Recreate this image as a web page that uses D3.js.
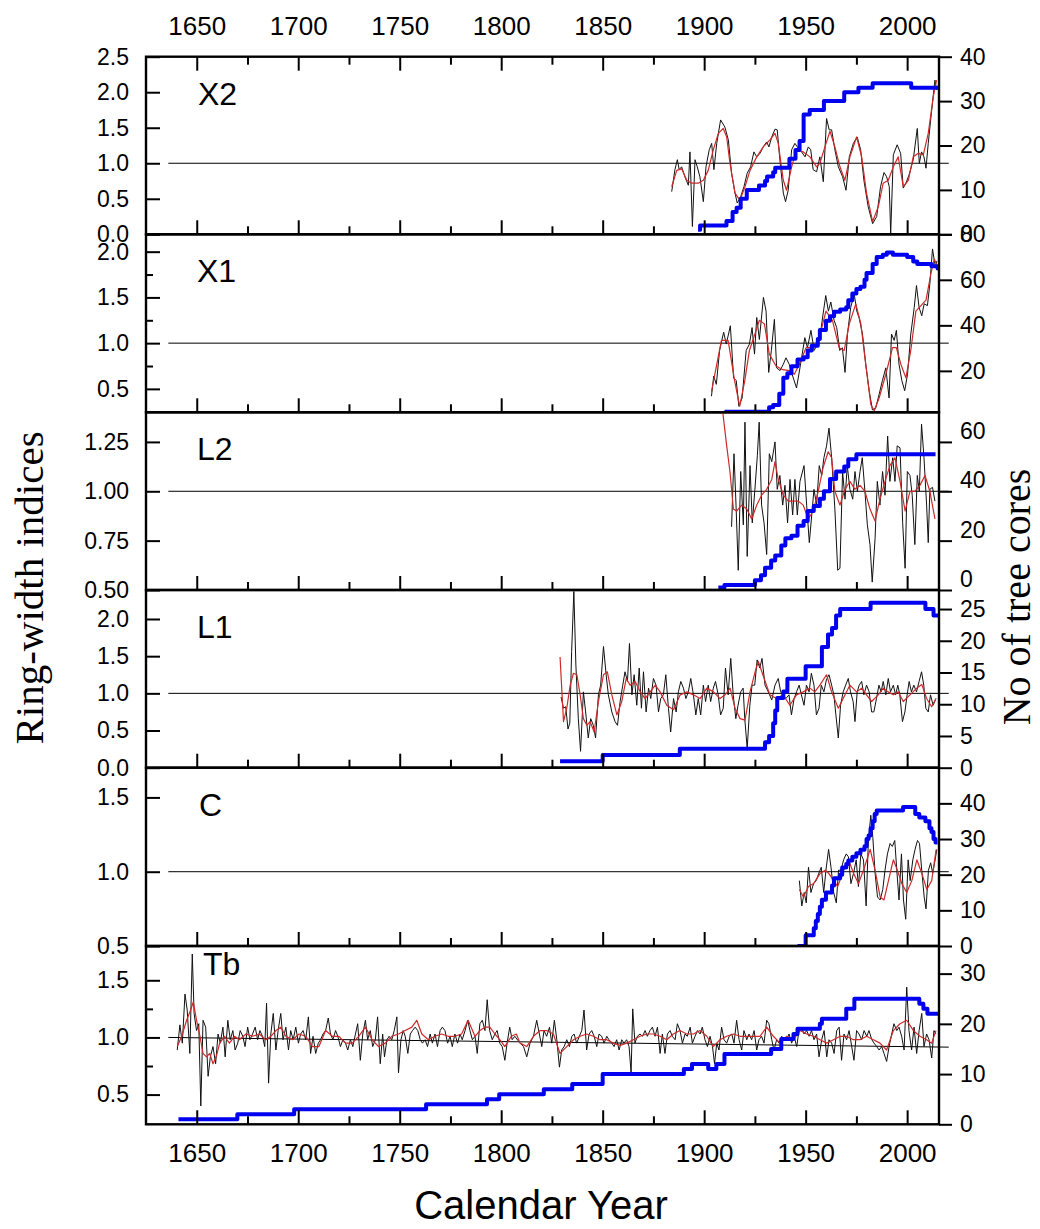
<!DOCTYPE html>
<html><head><meta charset="utf-8">
<script src="https://cdn.jsdelivr.net/npm/d3@7"></script>
<style>body{margin:0;background:#fff}svg{display:block}</style>
</head><body>
<svg id="chart" width="1040" height="1229"></svg>
<script>
// ---------------- DATA ----------------
const panelNames = ["X2", "X1", "L2", "L1", "C", "Tb"];
const xMajorTicks = [1650, 1700, 1750, 1800, 1850, 1900, 1950, 2000];
const xMinorTicks = [1675, 1725, 1775, 1825, 1875, 1925, 1975];
const xTitle = "Calendar Year";
const yLeftTitle = "Ring-width indices";
const yRightTitle = "No of tree cores";

// [year, ring-width index] (raw), [year, smoothed], [year, number of cores]
const X2_raw = [[1884,0.60],[1885.6,0.91],[1886.8,1.05],[1887.7,0.91],[1888.9,0.95],[1890.5,0.81],[1892.2,0.69],[1893,1.16],[1894.2,0.11],[1895.5,1.05],[1896.6,0.95],[1897.9,0.81],[1899.6,0.46],[1900.9,0.95],[1902.5,1.19],[1903.7,1.28],[1904.8,0.91],[1906.2,1.28],[1908.1,1.61],[1910.2,1.51],[1911.9,1.33],[1913.5,0.86],[1915.2,0.58],[1916.3,0.44],[1918,0.53],[1919.6,0.67],[1921.2,0.86],[1922.9,0.95],[1924.5,1.16],[1925.9,1.09],[1927.5,1.14],[1929.1,1.23],[1930.8,1.30],[1931.9,1.23],[1933.3,1.37],[1934.9,1.48],[1936,1.47],[1937.3,1.05],[1939,0.58],[1940.1,0.46],[1941.4,0.62],[1943.1,1.19],[1944.7,1.28],[1946.4,1.21],[1948,1.16],[1949.7,1.09],[1951.3,1.23],[1952.5,1.19],[1953.7,0.91],[1955.4,0.88],[1957,1.09],[1958.7,0.74],[1960.3,1.63],[1961.6,1.47],[1962.8,1.47],[1964.4,1.19],[1966.1,0.95],[1968.2,0.81],[1969.9,0.62],[1971.5,1.09],[1973.5,1.28],[1975.4,1.37],[1977.1,1.19],[1978.7,0.76],[1980.8,0.39],[1983,0.15],[1985,0.25],[1986.9,0.67],[1988.6,0.87],[1989.9,0.81],[1991.2,0.67],[1991.9,0.01],[1993.2,1.12],[1995.1,1.26],[1996.8,1.14],[1998.1,0.65],[1999.4,0.72],[2001,0.84],[2003,1.05],[2005,1.49],[2006,1.0],[2007.1,1.16],[2008.3,1.09],[2009.3,0.93],[2010.4,1.28],[2012.1,1.75],[2013.7,2.17],[2014.5,2.03]];
const X2_smooth = [[1884,0.67],[1886.5,0.90],[1889,0.92],[1891.4,0.76],[1893.8,0.72],[1897.1,0.72],[1899.6,0.76],[1902,0.90],[1904.5,1.19],[1907,1.42],[1909.4,1.49],[1911.1,1.37],[1912.7,1.0],[1915.2,0.58],[1917.6,0.48],[1920.1,0.67],[1922.6,0.90],[1925.9,1.09],[1929.1,1.23],[1932.4,1.33],[1934.9,1.42],[1936.5,1.28],[1939,0.76],[1940.6,0.62],[1943.1,0.95],[1945.5,1.19],[1948.8,1.16],[1952.1,1.09],[1955.4,0.95],[1957,1.0],[1959.5,1.23],[1962,1.45],[1964.4,1.23],[1966.9,0.95],[1969.3,0.76],[1971.8,1.09],[1975.1,1.37],[1977.6,1.09],[1980,0.58],[1983,0.18],[1985.8,0.39],[1988.2,0.72],[1990.7,0.76],[1993.2,0.95],[1995.6,1.09],[1998.1,0.67],[2000.6,0.76],[2003,1.09],[2005.5,1.14],[2008,1.12],[2010.4,1.42],[2012.9,1.94],[2014.5,2.17]];
const X2_depth = [[1897,1],[1898,2],[1911,3],[1914,5],[1916,6],[1918,8],[1921,10],[1927,11],[1930,12],[1931,13],[1934,14],[1935,15],[1942,17],[1945,19],[1947,21],[1949,27],[1952,28],[1959,30],[1969,32],[1976,33],[1983,34],[2002,33],[2016,33]];

const X1_raw = [[1903.6,0.42],[1904.7,0.64],[1906,0.55],[1907.6,0.92],[1909.6,1.12],[1910.9,0.99],[1912.9,1.19],[1914.5,0.62],[1915.8,0.59],[1917.1,0.31],[1918.7,0.40],[1920.7,0.92],[1922.3,0.99],[1923.6,1.17],[1924.8,0.88],[1925.9,1.28],[1927.2,1.04],[1929.2,1.50],[1930.5,1.35],[1931.8,0.68],[1933.1,0.92],[1934.6,1.26],[1935.7,0.73],[1937.4,0.70],[1939,0.77],[1940.3,0.84],[1941.9,0.77],[1943.6,0.64],[1945.5,0.51],[1947.2,0.73],[1949.6,1.06],[1950.9,0.95],[1952.6,1.14],[1954.2,0.92],[1955.8,0.99],[1957.5,1.14],[1958.6,1.32],[1959.9,1.52],[1961.2,1.35],[1962.4,1.45],[1964,1.25],[1965.3,1.17],[1966.8,0.92],[1968.1,0.95],[1969.4,0.68],[1970.6,1.10],[1972.2,1.39],[1973.9,1.54],[1975.2,1.35],[1976.3,1.28],[1978,1.10],[1979.6,0.77],[1981.3,0.48],[1982.9,0.27],[1984.5,0.29],[1986.2,0.44],[1987.8,0.59],[1989.5,0.73],[1991.1,0.40],[1992.3,1.10],[1993.6,1.03],[1994.7,1.14],[1996,0.77],[1997.4,0.59],[1998.8,0.48],[2000.2,0.66],[2001.8,1.10],[2003.5,1.39],[2004.6,1.63],[2005.9,1.39],[2007.2,1.30],[2008.4,1.43],[2010,1.41],[2011.2,1.65],[2012.5,2.03],[2013.9,1.83],[2014.7,1.90]];
const X1_smooth = [[1903.6,0.47],[1908.5,1.03],[1911.8,1.03],[1915,0.59],[1917.5,0.31],[1920,0.59],[1922.3,0.92],[1925.6,1.14],[1927.2,1.25],[1929.7,1.21],[1932.1,0.88],[1935.4,0.75],[1938.7,0.71],[1942,0.70],[1944.4,0.66],[1946.9,0.77],[1950.2,0.95],[1953.5,0.95],[1956.7,1.06],[1960,1.35],[1963.2,1.25],[1966.5,0.95],[1969,0.92],[1971.5,1.21],[1974.7,1.43],[1977.2,1.21],[1979.6,0.77],[1982.1,0.33],[1983.8,0.26],[1986.2,0.40],[1989.5,0.66],[1992.8,0.95],[1994.7,0.95],[1996.9,0.77],[1999.4,0.62],[2001.8,0.92],[2004.3,1.35],[2006.8,1.41],[2009.3,1.47],[2011.7,1.76],[2013.4,1.92],[2014.7,1.85]];
const X1_depth = [[1910,2],[1932,4],[1934,5],[1937,10],[1939,17],[1941,19],[1943,22],[1946,25],[1949,26],[1951,29],[1953,31],[1956,34],[1957,38],[1960,42],[1962,44],[1964,46],[1967,47],[1970,48],[1971,51],[1973,54],[1975,56],[1977,57],[1979,60],[1980,63],[1983,67],[1985,70],[1988,71],[1990,72],[1993,71],[2000,70],[2003,68],[2005,67],[2012,66],[2015,65],[2016,65]];

const L2_raw = [[1913.5,0.82],[1914.7,1.19],[1915.7,0.93],[1916.8,0.60],[1918,1.10],[1919.3,0.83],[1920.1,1.35],[1921.2,0.67],[1922.6,1.13],[1923.7,0.84],[1925,1.01],[1926.2,1.18],[1927.1,1.35],[1928.3,0.93],[1929.5,0.84],[1930.8,0.68],[1932.1,1.19],[1933.3,1.15],[1934.9,1.25],[1936,1.01],[1937.3,1.08],[1938.7,0.93],[1939.8,1.03],[1941.1,0.84],[1942.3,1.06],[1943.6,0.88],[1944.7,1.06],[1945.9,0.88],[1947.2,1.05],[1949.2,1.13],[1950.5,0.93],[1951.8,0.74],[1953,0.88],[1954.1,1.01],[1955.4,0.93],[1956.7,1.13],[1957.9,1.08],[1959,1.17],[1960.3,1.23],[1961.5,1.32],[1962.8,1.17],[1964.4,0.91],[1965.8,0.60],[1966.9,0.61],[1968.2,1.10],[1969.4,0.96],[1970.5,1.13],[1971.8,1.01],[1973.2,0.96],[1974.3,1.10],[1975.5,1.00],[1976.8,1.10],[1977.9,1.17],[1979.2,1.00],[1980.4,0.83],[1981.7,0.73],[1982.8,0.54],[1984.2,0.76],[1985.3,1.05],[1986.6,0.93],[1987.9,1.10],[1989.1,0.98],[1990.4,1.28],[1991.5,1.05],[1992.9,1.17],[1994,1.05],[1995.1,1.23],[1996.5,1.22],[1997.8,0.84],[1999,0.61],[2000.1,1.10],[2001.4,1.08],[2002.5,0.98],[2003.8,0.73],[2005,1.08],[2006,1.00],[2007.1,1.34],[2008.3,1.17],[2009.6,0.93],[2010.4,0.74],[2011.2,1.01],[2012.5,1.02],[2013.7,0.95]];
const L2_smooth = [[1908.6,1.45],[1911.1,1.23],[1912.7,1.10],[1914.4,0.91],[1916,0.90],[1918.5,0.93],[1921,0.91],[1923.4,0.86],[1925.9,0.93],[1928.3,0.98],[1930.8,1.01],[1933.3,1.06],[1934.9,1.15],[1936.5,1.06],[1939,0.98],[1941.4,0.95],[1943.9,0.95],[1946.4,0.95],[1948.8,0.93],[1951.3,0.86],[1953.7,0.90],[1956.2,1.00],[1958.6,1.12],[1961.1,1.20],[1962.8,1.17],[1964.4,1.00],[1966.9,0.93],[1969.4,1.01],[1971.8,1.05],[1974.3,1.01],[1976.8,1.03],[1979.2,1.00],[1981.7,0.91],[1984.2,0.85],[1986.6,0.96],[1989.1,1.05],[1991.5,1.13],[1994,1.17],[1996.5,1.05],[1999,0.90],[2001.4,1.00],[2003.8,1.00],[2006.3,1.03],[2008.8,1.08],[2011.2,1.00],[2013.7,0.86]];
const L2_depth = [[1907,1],[1910,2],[1925,4],[1928,6],[1930,9],[1933,12],[1935,14],[1938,18],[1940,21],[1943,22],[1946,26],[1949,28],[1951,32],[1954,34],[1957,37],[1959,40],[1962,45],[1965,48],[1969,50],[1971,53],[1975,55],[2014,55]];

const L1_raw = [[1829.5,0.95],[1830.7,0.80],[1831.8,0.82],[1832.9,0.52],[1833.8,0.60],[1834.7,1.56],[1835.8,2.37],[1836.8,1.38],[1838,0.66],[1839.1,0.22],[1840.5,1.02],[1841.6,0.75],[1842.9,0.40],[1844.1,0.66],[1845.4,0.57],[1846.5,0.40],[1847.9,0.98],[1849,1.11],[1850.4,1.63],[1851.7,1.25],[1852.8,0.98],[1854.5,0.75],[1856.1,0.62],[1857.3,0.57],[1858.6,0.89],[1859.9,1.11],[1861,1.29],[1862.2,1.16],[1863.2,1.67],[1864.4,0.98],[1865.5,1.25],[1866.8,0.84],[1868,1.34],[1869.1,0.80],[1870.1,1.29],[1871.4,0.75],[1872.6,1.07],[1873.7,0.93],[1875,1.20],[1876.3,1.11],[1877.5,0.75],[1878.6,0.93],[1879.9,0.98],[1881.1,1.25],[1882.4,0.80],[1883.5,0.48],[1884.9,0.93],[1886.2,0.75],[1887.3,1.02],[1888.5,1.16],[1889.8,1.07],[1891,0.93],[1892.2,1.02],[1893.4,1.20],[1894.7,0.98],[1895.9,0.71],[1897.1,0.93],[1898.3,0.71],[1899.6,1.11],[1900.7,0.89],[1902,1.11],[1903.2,0.89],[1904.5,1.07],[1905.6,1.16],[1906.9,0.98],[1908.1,0.71],[1909.4,0.80],[1910.5,1.34],[1911.8,0.98],[1913.1,1.47],[1914.3,0.98],[1915.6,0.66],[1916.7,0.84],[1918,1.02],[1919.2,1.07],[1920,0.66],[1921.2,0.26],[1922.5,0.84],[1923.6,1.11],[1924.9,1.11],[1926.1,1.45],[1927.4,1.34],[1928.5,1.47],[1930,1.11],[1931.6,1.02],[1933.3,0.91],[1934.9,1.11],[1936.5,1.20],[1937.7,1.02],[1938.9,0.98],[1940.2,0.93],[1941.8,0.98],[1943,0.71],[1944.3,0.93],[1945.5,1.02],[1946.8,1.11],[1947.9,0.98],[1949.2,0.84],[1950.4,1.11],[1951.7,1.02],[1952.8,1.27],[1954.1,1.11],[1955.3,0.71],[1956.6,0.80],[1957.7,1.11],[1959,1.02],[1960.2,1.18],[1961.5,1.25],[1962.8,1.11],[1963.9,0.98],[1964.9,0.71],[1966.1,0.40],[1967.2,0.84],[1968.5,1.02],[1969.7,1.11],[1971,1.20],[1972.1,1.02],[1973.4,0.89],[1974.3,0.62],[1975.4,1.02],[1976.4,1.11],[1977.6,1.16],[1978.7,0.98],[1980,1.11],[1981.3,1.02],[1982.5,0.75],[1983.6,0.75],[1984.9,0.93],[1986.1,1.11],[1987.2,1.02],[1988.2,1.16],[1989.5,0.98],[1990.7,1.20],[1991.8,1.02],[1993.2,1.11],[1994.3,0.98],[1995.4,1.11],[1996.4,0.98],[1997.7,0.62],[1998.9,0.75],[2000,0.98],[2001,1.16],[2002.1,1.02],[2003.3,1.11],[2004.6,1.02],[2005.9,1.16],[2007.1,1.29],[2008.2,1.11],[2009.2,0.80],[2010.4,0.75],[2011.5,0.98],[2012.8,0.84],[2014.2,0.93]];
const L1_smooth = [[1829,1.49],[1830.7,0.62],[1832.3,0.80],[1834,1.11],[1835.6,1.27],[1837.3,1.25],[1838.9,0.98],[1840.5,0.66],[1842.2,0.57],[1843.8,0.62],[1845.8,0.48],[1847.9,0.89],[1850.4,1.25],[1852.3,1.29],[1854.5,0.98],[1857,0.71],[1859.4,0.89],[1861.6,1.20],[1863.5,1.11],[1866,1.16],[1868.5,1.02],[1870.9,0.93],[1873.4,1.02],[1875.9,1.11],[1878.3,1.02],[1881.6,0.84],[1884.9,0.78],[1888.2,0.98],[1891.5,1.02],[1894.7,0.98],[1898,0.93],[1901.3,1.07],[1904.6,1.02],[1907.8,0.93],[1910.3,0.98],[1912.8,1.07],[1915.2,0.80],[1917.7,0.66],[1920.1,0.64],[1922.6,1.02],[1925.1,1.29],[1926.7,1.43],[1928.9,1.25],[1932.4,0.98],[1935.6,0.93],[1938.9,0.98],[1942.2,0.84],[1945.5,0.98],[1948.8,1.02],[1952.1,1.07],[1954.5,1.02],[1957,1.11],[1960.3,1.25],[1962.8,1.02],[1966.1,0.80],[1969.4,0.98],[1971.8,1.11],[1975.1,1.02],[1977.6,1.07],[1980,0.98],[1982.5,0.89],[1985.8,0.98],[1988.2,1.07],[1990.7,1.02],[1993.2,0.98],[1995.6,1.02],[1998.1,0.89],[2001.4,0.98],[2004.7,1.07],[2007.2,1.12],[2009.6,0.93],[2012.1,0.82],[2014.2,0.93]];
const L1_depth = [[1829,1],[1850,2],[1888,3],[1930,4],[1932,5],[1934,7],[1935,9],[1936,11],[1939,12],[1941,14],[1950,16],[1958,19],[1961,21],[1963,22],[1965,24],[1967,25],[1982,26],[2009,25],[2013,24],[2016,24]];

const C_raw = [[1946.9,0.94],[1948.1,0.77],[1949.3,0.86],[1950.3,0.79],[1951.4,1.03],[1952.6,0.86],[1953.9,0.92],[1955.2,0.94],[1956.5,0.99],[1957.7,1.03],[1958.9,0.86],[1960,1.01],[1961.3,1.15],[1962.5,1.03],[1963.8,0.86],[1965.1,0.79],[1966.2,1.01],[1967.4,1.01],[1968.7,1.08],[1970,1.12],[1971.1,1.10],[1972.3,0.92],[1973.6,0.99],[1974.9,1.08],[1976,0.90],[1977.2,1.12],[1978.5,1.08],[1979.8,0.77],[1980.9,1.21],[1982.1,1.38],[1983.1,1.23],[1984.2,0.99],[1985.4,0.83],[1986.7,0.81],[1988,0.88],[1989.1,1.01],[1990.3,1.12],[1991.6,1.19],[1992.7,1.17],[1993.9,1.21],[1994.9,1.01],[1996,0.81],[1997.2,1.12],[1998.2,0.81],[1999.3,0.68],[2000.5,1.08],[2001.5,0.94],[2002.8,1.08],[2003.9,1.15],[2005.1,1.21],[2006.1,1.19],[2007.2,1.01],[2008.4,0.83],[2009.3,0.75],[2010.5,1.01],[2011.6,1.06],[2012.6,0.99],[2013.8,1.08],[2014.6,1.15]];
const C_smooth = [[1946.9,0.88],[1948.9,0.83],[1951.4,0.90],[1953.9,0.92],[1957.2,0.99],[1959.7,1.01],[1961.3,0.99],[1963.8,0.94],[1965.8,0.90],[1968.7,1.01],[1971.1,1.08],[1973.6,0.99],[1976,0.92],[1978.5,1.01],[1981.8,1.15],[1984.2,1.01],[1986.7,0.83],[1988.6,0.81],[1990.8,0.94],[1993.2,1.08],[1995.2,1.01],[1997.4,0.92],[1999.8,0.86],[2002.3,0.94],[2004.8,1.08],[2007.2,0.99],[2009.7,0.88],[2012.1,0.94],[2014.3,1.15]];
const C_depth = [[1946,0],[1950,3],[1954,5],[1955,7],[1956,9],[1957,11],[1958,13],[1960,15],[1963,17],[1964,19],[1967,20],[1968,22],[1970,23],[1971,24],[1973,25],[1975,26],[1977,27],[1979,28],[1980,30],[1981,31],[1982,33],[1983,35],[1984,37],[1985,38],[1998,39],[2004,37],[2006,36],[2009,35],[2011,33],[2012,32],[2013,30],[2014,29],[2015,29]];

const Tb_raw = [[1640.4,0.89],[1641.7,1.11],[1642.9,0.95],[1644.2,1.38],[1645.3,1.24],[1646.6,0.86],[1647.8,1.73],[1648.7,1.21],[1649.9,1.06],[1651,1.12],[1652,0.40],[1653.1,1.15],[1654.4,1.09],[1655.6,0.66],[1656.7,0.83],[1658,0.92],[1659.3,0.77],[1660.5,1.03],[1661.6,0.95],[1662.9,1.09],[1664,0.83],[1665.3,1.15],[1666.5,0.98],[1667.8,1.06],[1668.9,0.89],[1670.2,0.95],[1671.4,1.06],[1672.7,1.01],[1673.8,0.92],[1675.1,1.09],[1676.2,0.98],[1677.5,1.03],[1678.8,1.09],[1680,0.98],[1681.1,1.06],[1682.4,1.01],[1683.5,0.92],[1684.4,1.30],[1685.4,0.60],[1686.5,1.03],[1687.7,1.21],[1689,0.89],[1690.1,1.06],[1691.4,1.21],[1692.5,0.98],[1693.9,1.09],[1695.2,0.89],[1696.3,1.06],[1697.5,0.98],[1698.8,1.09],[1700.1,0.95],[1701.2,1.03],[1702.4,1.06],[1703.7,0.98],[1705,1.18],[1706.1,0.86],[1707.3,1.01],[1708.6,0.86],[1709.9,0.95],[1711,0.98],[1712.2,1.03],[1713.5,1.06],[1714.8,1.17],[1715.9,1.03],[1717.1,0.98],[1718.4,1.06],[1719.5,1.01],[1720.8,0.92],[1722,0.98],[1723.3,0.95],[1724.4,0.89],[1725.7,0.98],[1726.9,0.92],[1728.2,1.03],[1729.3,1.12],[1730.6,0.80],[1731.8,1.03],[1733.1,1.15],[1734.2,0.98],[1735.5,1.06],[1736.7,0.92],[1738,0.98],[1739.1,1.18],[1740.4,0.77],[1741.6,1.03],[1742.5,0.83],[1743.7,0.98],[1744.8,1.01],[1746.1,0.98],[1747.3,1.06],[1748.6,1.18],[1749.4,0.69],[1750.6,0.98],[1751.7,1.06],[1752.7,1.01],[1754,0.86],[1755.2,1.03],[1756.3,1.06],[1757.6,1.09],[1758.9,1.06],[1760.1,0.98],[1761.2,0.95],[1762.5,0.98],[1763.7,0.92],[1765,1.03],[1766.1,0.95],[1767.4,1.03],[1768.6,0.92],[1769.9,1.06],[1771,1.09],[1772.3,1.06],[1773.6,0.95],[1774.8,1.01],[1775.9,0.92],[1777.2,1.03],[1778.5,0.95],[1779.7,1.03],[1780.8,0.98],[1782.2,1.06],[1783.5,1.15],[1784.6,1.06],[1785.8,0.98],[1787.1,1.01],[1788.2,0.86],[1789.5,1.12],[1790.7,1.15],[1792,1.06],[1793.1,1.33],[1794.3,1.06],[1795.6,0.98],[1796.9,1.03],[1798,1.06],[1799.3,0.95],[1800.5,0.92],[1801.8,0.80],[1802.9,0.95],[1804.2,1.09],[1805.4,0.98],[1806.7,1.01],[1809.3,0.95],[1811,0.92],[1812.6,0.83],[1814.2,0.95],[1815.9,1.01],[1817.5,1.15],[1818.8,1.03],[1820,0.92],[1821.1,1.06],[1822.4,1.01],[1823.8,1.09],[1824.9,0.95],[1826.2,1.15],[1827.4,0.98],[1828.7,0.74],[1829.8,0.89],[1831,0.92],[1832.3,0.98],[1833.6,0.92],[1834.8,1.01],[1835.9,1.03],[1837.2,0.95],[1838.5,1.01],[1839.7,1.06],[1840.8,1.24],[1842.1,0.89],[1843.3,1.03],[1844.6,1.06],[1845.8,1.01],[1847.1,0.92],[1848.2,1.03],[1849.5,1.01],[1850.7,0.95],[1852,1.01],[1853.1,0.98],[1854.5,0.95],[1855.6,0.92],[1856.9,0.98],[1858.1,0.89],[1859.4,0.98],[1860.5,0.95],[1861.8,0.98],[1863,0.92],[1864,0.69],[1864.8,1.25],[1865.9,0.95],[1867.1,1.01],[1868.4,1.03],[1869.6,1.01],[1870.9,1.06],[1872,1.01],[1873.3,1.06],[1874.5,1.09],[1875.8,1.01],[1877,1.09],[1878.3,0.86],[1879.4,1.03],[1880.7,0.86],[1881.9,1.03],[1883.2,1.06],[1884.3,1.01],[1885.7,0.98],[1886.8,1.12],[1888.1,1.06],[1889.3,0.95],[1890.6,1.03],[1891.7,1.01],[1893.1,1.09],[1894.2,0.95],[1895.5,1.01],[1896.7,1.06],[1898,1.03],[1899.1,1.09],[1900.4,0.98],[1901.6,0.92],[1902.9,1.01],[1904.1,0.92],[1905.1,0.77],[1906.2,0.95],[1907.3,0.89],[1908.6,1.09],[1909.8,0.98],[1911.1,0.95],[1912.3,1.01],[1913.6,1.03],[1914.7,0.95],[1916,1.15],[1917.2,0.98],[1918.5,0.89],[1919.6,1.06],[1921,0.98],[1922.1,1.03],[1923.4,0.98],[1924.6,1.06],[1925.9,0.89],[1927,0.98],[1928.3,1.01],[1929.5,0.95],[1930.8,1.15],[1931.9,1.12],[1933.3,0.98],[1934.4,0.89],[1935.7,0.98],[1936.9,0.95],[1938.2,1.01],[1939.4,0.98],[1940.7,0.98],[1941.8,1.03],[1943.1,0.95],[1944.3,1.01],[1945.6,0.92],[1946.7,1.06],[1948,1.09],[1949.2,1.03],[1950.5,1.06],[1951.7,1.01],[1952.9,1.06],[1954.1,0.98],[1955.4,1.03],[1956.6,0.83],[1957.9,0.98],[1959.1,1.06],[1960.4,0.83],[1961.5,0.98],[1962.8,0.95],[1964,0.86],[1965.3,1.06],[1966.5,1.09],[1967.7,0.80],[1968.9,1.03],[1970.2,0.98],[1971.4,1.06],[1972.7,0.92],[1973.8,0.80],[1975.1,1.06],[1976.3,1.03],[1977.6,0.98],[1978.8,1.06],[1980.1,1.01],[1981.2,1.06],[1982.6,0.98],[1983.7,0.95],[1985,0.92],[1986.2,0.89],[1987.5,0.92],[1988.6,0.86],[1989.9,0.79],[1991.1,0.92],[1992.4,1.03],[1993.5,1.12],[1994.9,1.06],[1996,1.09],[1997.3,1.01],[1998.5,0.89],[1999.8,1.44],[2000.9,1.06],[2002.2,0.89],[2003.4,1.09],[2004.7,0.86],[2005.9,1.06],[2007.2,1.21],[2008.3,0.92],[2009.6,1.03],[2010.8,0.98],[2012.1,0.82],[2013.2,1.06],[2014.2,1.03]];
const Tb_smooth = [[1640.4,0.92],[1642.6,1.01],[1645,1.15],[1647,1.24],[1648.3,1.31],[1649.9,1.15],[1651.6,1.01],[1653.1,0.86],[1654.8,0.83],[1656.4,0.86],[1658,0.77],[1659.6,0.83],[1661.3,0.95],[1663.7,1.01],[1666.1,0.95],[1668.6,1.01],[1671,0.98],[1674.3,1.03],[1677.5,1.01],[1680.8,1.03],[1684,0.98],[1686.5,1.01],[1689,1.06],[1691.4,1.09],[1693.9,1.01],[1697.2,0.98],[1700.4,1.03],[1703.7,1.01],[1707,0.92],[1710.2,0.92],[1713.5,1.06],[1716.8,1.01],[1720,1.01],[1723.3,0.95],[1726.6,0.95],[1729.8,1.01],[1733.1,1.09],[1736.4,0.98],[1739.6,0.92],[1742.9,0.95],[1746.1,1.01],[1749.4,1.03],[1752.7,1.06],[1756,1.09],[1758.4,1.15],[1760.9,1.03],[1764.1,0.98],[1767.4,1.01],[1770.6,1.03],[1773.9,1.01],[1777.2,1.01],[1780.5,1.03],[1783.7,1.15],[1787.1,1.01],[1789.5,1.06],[1792,1.09],[1794.4,1.09],[1796.9,1.03],[1799.3,0.98],[1801.8,0.92],[1805,1.01],[1807.5,1.03],[1809.3,0.95],[1812.6,0.92],[1815.9,1.01],[1819.2,1.06],[1822.4,1.06],[1825.7,1.03],[1829,0.86],[1832.3,0.92],[1835.6,0.98],[1838.9,1.01],[1842.1,1.03],[1845.4,1.01],[1848.7,0.98],[1852,0.98],[1855.3,0.95],[1858.6,0.93],[1861.8,0.95],[1865.1,0.98],[1868.4,1.01],[1871.7,1.03],[1875,1.03],[1878.3,1.01],[1881.6,0.98],[1884.8,1.03],[1888.1,1.06],[1891.4,1.03],[1894.7,1.03],[1898,1.06],[1901.3,1.01],[1904.5,0.92],[1907.8,0.98],[1911.1,1.01],[1914.4,1.03],[1917.7,1.01],[1921,1.01],[1924.2,1.01],[1927.5,1.01],[1930.8,1.09],[1934.1,1.01],[1937.4,0.95],[1940.7,1.01],[1944,0.98],[1947.2,1.06],[1950.5,1.03],[1953.8,1.01],[1957.1,0.98],[1960.4,0.95],[1963.7,0.98],[1967,1.01],[1970.2,1.01],[1973.5,0.98],[1976.8,0.98],[1980.1,1.01],[1983.4,0.98],[1986.6,0.95],[1989.9,0.89],[1993.2,1.06],[1996.5,1.12],[1999.8,1.15],[2003.1,1.06],[2006.3,1.01],[2009.6,0.98],[2012.1,0.95],[2014.2,1.06]];
const Tb_depth = [[1641,1],[1670,2],[1698,3],[1763,4],[1793,5],[1799,6],[1821,7],[1835,8],[1850,10],[1890,11],[1894,12],[1902,11],[1906,12],[1910,14],[1933,15],[1938,17],[1944,18],[1946,19],[1957,20],[1958,21],[1970,23],[1974,25],[2006,24],[2008,23],[2010,22],[2016,22]];

// axis settings per panel (domains and tick values)
const leftDomains  = [[0, 2.5], [0.244, 2.19], [0.5, 1.40], [0, 2.39], [0.5, 1.70], [0.24, 1.8]];
const leftTicks    = [[0, 0.5, 1.0, 1.5, 2.0, 2.5], [0.5, 1.0, 1.5, 2.0], [0.5, 0.75, 1.0, 1.25], [0, 0.5, 1.0, 1.5, 2.0], [0.5, 1.0, 1.5], [0.5, 1.0, 1.5]];
const leftMinor    = [[], [0.75, 1.25, 1.75], [], [], [], [0.75, 1.25]];
const leftFormats  = [".1f", ".1f", ".2f", ".1f", ".1f", ".1f"];
const rightDomains = [[0, 40], [1.8, 80], [0, 72], [0, 28], [0, 50], [0, 35.5]];
const rightTicks   = [[0, 10, 20, 30, 40], [20, 40, 60, 80], [0, 20, 40, 60], [0, 5, 10, 15, 20, 25], [0, 10, 20, 30, 40], [0, 10, 20, 30]];
const refLineEnd   = [1, 1, 1, 1, 1, 0.915];

const rawSeries    = [X2_raw, X1_raw, L2_raw, L1_raw, C_raw, Tb_raw];
const smoothSeries = [X2_smooth, X1_smooth, L2_smooth, L1_smooth, C_smooth, Tb_smooth];
const depthSeries  = [X2_depth, X1_depth, L2_depth, L1_depth, C_depth, Tb_depth];

// ---------------- LAYOUT ----------------
const panelTops = [56.7, 234.3, 412.3, 590, 767.7, 946, 1124.3];
const labelPos = [[198, 48], [197, 48], [197, 48], [197, 48], [199, 48], [203, 29]];
const rightLabelShift = [0, 0, -11, 0, 0, 0];
const X0 = 146, X1 = 939;
const SANS = "'Liberation Sans', Arial, sans-serif";
const SERIF = "'Liberation Serif', 'Times New Roman', serif";

const svg = d3.select("#chart");
const x = d3.scaleLinear().domain([1625, 2015.7]).range([X0, X1]);

function styleAxis(g, size) {
  g.select(".domain").remove();
  g.selectAll(".tick line").attr("stroke", "#000").attr("stroke-width", 2);
  g.selectAll("text").attr("font-family", SANS).attr("font-size", size).attr("fill", "#000");
}

panelNames.forEach((name, i) => {
  const top = panelTops[i], bottom = panelTops[i + 1];
  const yL = d3.scaleLinear().domain(leftDomains[i]).range([bottom, top]);
  const yR = d3.scaleLinear().domain(rightDomains[i]).range([bottom, top]);

  const clipId = "clip" + i;
  svg.append("clipPath").attr("id", clipId).append("rect")
    .attr("x", X0).attr("y", top).attr("width", X1 - X0).attr("height", bottom - top);

  // reference line at index 1.0 (reaches a little past the frame, as in the original)
  svg.append("line")
    .attr("x1", x(1636)).attr("x2", x(2020.5))
    .attr("y1", yL(1)).attr("y2", yL(refLineEnd[i]))
    .attr("stroke", "#000").attr("stroke-width", 1);

  const g = svg.append("g").attr("clip-path", `url(#${clipId})`);
  const lineL = d3.line().x(d => x(d[0])).y(d => yL(d[1]));
  const lineR = d3.line().x(d => x(d[0])).y(d => yR(d[1])).curve(d3.curveStepAfter);

  g.append("path").datum(rawSeries[i]).attr("d", lineL)
    .attr("fill", "none").attr("stroke", "#111").attr("stroke-width", 1).attr("stroke-linejoin", "round");
  g.append("path").datum(smoothSeries[i]).attr("d", lineL)
    .attr("fill", "none").attr("stroke", "#cc2a2a").attr("stroke-width", 1.2).attr("stroke-linejoin", "round");
  g.append("path").datum(depthSeries[i]).attr("d", lineR)
    .attr("fill", "none").attr("stroke", "#0000f0").attr("stroke-width", 4).attr("stroke-linejoin", "round");

  // frame
  svg.append("rect").attr("x", X0).attr("y", top).attr("width", X1 - X0).attr("height", bottom - top)
    .attr("fill", "none").attr("stroke", "#000").attr("stroke-width", 2.4);

  // left axis (ticks inward)
  svg.append("g").attr("transform", `translate(${X0},0)`)
    .call(d3.axisLeft(yL).tickValues(leftTicks[i]).tickSize(-14).tickPadding(17).tickFormat(d3.format(leftFormats[i])))
    .call(gg => styleAxis(gg, 23));
  if (leftMinor[i].length) {
    svg.append("g").attr("transform", `translate(${X0},0)`)
      .call(d3.axisLeft(yL).tickValues(leftMinor[i]).tickSize(-7).tickFormat(""))
      .call(gg => styleAxis(gg, 23));
  }

  // right axis (ticks outward)
  svg.append("g").attr("transform", `translate(${X1},0)`)
    .call(d3.axisRight(yR).tickValues(rightTicks[i]).tickSize(13).tickPadding(8))
    .call(gg => { styleAxis(gg, 23); gg.selectAll("text").attr("y", rightLabelShift[i]); });

  // bottom x ticks (inward), labels only on last panel
  const last = i === panelNames.length - 1;
  svg.append("g").attr("transform", `translate(0,${bottom})`)
    .call(d3.axisBottom(x).tickValues(xMajorTicks).tickSize(-14).tickPadding(19)
      .tickFormat(last ? d3.format("d") : () => ""))
    .call(gg => styleAxis(gg, 26));
  svg.append("g").attr("transform", `translate(0,${bottom})`)
    .call(d3.axisBottom(x).tickValues(xMinorTicks).tickSize(-8).tickFormat(""))
    .call(gg => styleAxis(gg, 26));

  if (i === 0) {
    svg.append("g").attr("transform", `translate(0,${top})`)
      .call(d3.axisTop(x).tickValues(xMajorTicks).tickSize(-14).tickPadding(21.7).tickFormat(d3.format("d")))
      .call(gg => styleAxis(gg, 26));
    svg.append("g").attr("transform", `translate(0,${top})`)
      .call(d3.axisTop(x).tickValues(xMinorTicks).tickSize(-8).tickFormat(""))
      .call(gg => styleAxis(gg, 26));
  }

  // panel label
  svg.append("text").attr("x", labelPos[i][0]).attr("y", top + labelPos[i][1])
    .attr("font-family", SANS).attr("font-size", 32).text(name);
});

// axis titles
svg.append("text").attr("x", 541).attr("y", 1219).attr("text-anchor", "middle")
  .attr("font-family", SANS).attr("font-size", 40).text(xTitle);
svg.append("text").attr("transform", "translate(43,588) rotate(-90)").attr("text-anchor", "middle")
  .attr("font-family", SERIF).attr("font-size", 41).text(yLeftTitle);
svg.append("text").attr("transform", "translate(1030,597) rotate(-90)").attr("text-anchor", "middle")
  .attr("font-family", SERIF).attr("font-size", 40).text(yRightTitle);
</script>
</body></html>
